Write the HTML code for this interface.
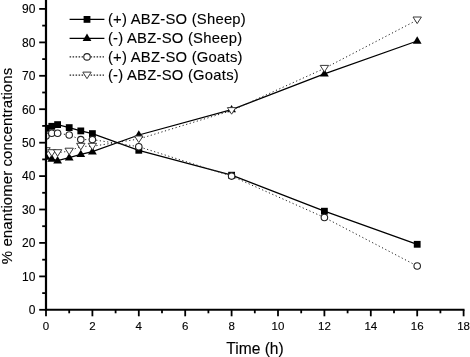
<!DOCTYPE html>
<html><head><meta charset="utf-8"><title>chart</title>
<style>
html,body{margin:0;padding:0;background:#fff;}
body{width:470px;height:357px;overflow:hidden;}
svg{display:block;will-change:transform;font-family:"Liberation Sans",sans-serif;}
text{fill:#000;stroke:#000;stroke-width:0.12px;}
</style></head><body>
<svg width="470" height="357" viewBox="0 0 470 357">
<rect width="470" height="357" fill="#fff"/>
<clipPath id="c"><rect x="46.0" y="0" width="430" height="309.8"/></clipPath><g clip-path="url(#c)">
<polyline points="46.0,128.3 51.8,126.3 57.6,124.6 69.2,127.6 80.8,130.9 92.4,133.6 138.8,150.3 231.6,175.2 324.4,211.2 417.2,244.3" stroke="#000" stroke-width="1.25" fill="none"/>
<rect x="42.6" y="124.9" width="6.8" height="6.8" fill="#000"/>
<rect x="48.4" y="122.9" width="6.8" height="6.8" fill="#000"/>
<rect x="54.2" y="121.2" width="6.8" height="6.8" fill="#000"/>
<rect x="65.8" y="124.2" width="6.8" height="6.8" fill="#000"/>
<rect x="77.4" y="127.5" width="6.8" height="6.8" fill="#000"/>
<rect x="89.0" y="130.2" width="6.8" height="6.8" fill="#000"/>
<rect x="135.4" y="146.9" width="6.8" height="6.8" fill="#000"/>
<rect x="228.2" y="171.8" width="6.8" height="6.8" fill="#000"/>
<rect x="321.0" y="207.8" width="6.8" height="6.8" fill="#000"/>
<rect x="413.8" y="240.9" width="6.8" height="6.8" fill="#000"/>
<polyline points="46.0,157.0 51.8,159.0 57.6,160.7 69.2,157.7 80.8,154.4 92.4,151.7 138.8,135.0 231.6,109.6 324.4,73.8 417.2,41.0" stroke="#000" stroke-width="1.25" fill="none"/>
<polygon points="46.0,152.3 50.4,159.7 41.6,159.7" fill="#000"/>
<polygon points="51.8,154.3 56.2,161.7 47.4,161.7" fill="#000"/>
<polygon points="57.6,156.0 62.0,163.4 53.2,163.4" fill="#000"/>
<polygon points="69.2,153.0 73.6,160.4 64.8,160.4" fill="#000"/>
<polygon points="80.8,149.7 85.2,157.1 76.4,157.1" fill="#000"/>
<polygon points="92.4,147.0 96.8,154.4 88.0,154.4" fill="#000"/>
<polygon points="138.8,130.3 143.2,137.7 134.4,137.7" fill="#000"/>
<polygon points="231.6,104.9 236.0,112.3 227.2,112.3" fill="#000"/>
<polygon points="324.4,69.1 328.8,76.5 320.0,76.5" fill="#000"/>
<polygon points="417.2,36.3 421.6,43.7 412.8,43.7" fill="#000"/>
<polyline points="46.0,136.0 51.8,133.3 57.6,133.3 69.2,135.0 80.8,139.6 92.4,139.6 138.8,146.7 231.6,176.1 324.4,217.5 417.2,266.0" stroke="#222" stroke-width="1" stroke-dasharray="1.2,2.5" fill="none"/>
<circle cx="46.0" cy="136.0" r="3.25" fill="#fff" stroke="#222" stroke-width="1.1"/>
<circle cx="51.8" cy="133.3" r="3.25" fill="#fff" stroke="#222" stroke-width="1.1"/>
<circle cx="57.6" cy="133.3" r="3.25" fill="#fff" stroke="#222" stroke-width="1.1"/>
<circle cx="69.2" cy="135.0" r="3.25" fill="#fff" stroke="#222" stroke-width="1.1"/>
<circle cx="80.8" cy="139.6" r="3.25" fill="#fff" stroke="#222" stroke-width="1.1"/>
<circle cx="92.4" cy="139.6" r="3.25" fill="#fff" stroke="#222" stroke-width="1.1"/>
<circle cx="138.8" cy="146.7" r="3.25" fill="#fff" stroke="#222" stroke-width="1.1"/>
<circle cx="231.6" cy="176.1" r="3.25" fill="#fff" stroke="#222" stroke-width="1.1"/>
<circle cx="324.4" cy="217.5" r="3.25" fill="#fff" stroke="#222" stroke-width="1.1"/>
<circle cx="417.2" cy="266.0" r="3.25" fill="#fff" stroke="#222" stroke-width="1.1"/>
<polyline points="46.0,150.7 51.8,152.7 57.6,152.7 69.2,151.2 80.8,146.3 92.4,146.3 138.8,139.0 231.6,110.6 324.4,68.4 417.2,20.0" stroke="#222" stroke-width="1" stroke-dasharray="1.2,2.5" fill="none"/>
<polygon points="41.8,147.7 50.2,147.7 46.0,154.3" fill="#fff" stroke="#3a3a3a" stroke-width="1.0"/>
<polygon points="47.6,149.7 56.0,149.7 51.8,156.3" fill="#fff" stroke="#3a3a3a" stroke-width="1.0"/>
<polygon points="53.4,149.7 61.8,149.7 57.6,156.3" fill="#fff" stroke="#3a3a3a" stroke-width="1.0"/>
<polygon points="65.0,148.2 73.4,148.2 69.2,154.8" fill="#fff" stroke="#3a3a3a" stroke-width="1.0"/>
<polygon points="76.6,143.3 85.0,143.3 80.8,149.9" fill="#fff" stroke="#3a3a3a" stroke-width="1.0"/>
<polygon points="88.2,143.3 96.6,143.3 92.4,149.9" fill="#fff" stroke="#3a3a3a" stroke-width="1.0"/>
<polygon points="134.6,136.0 143.0,136.0 138.8,142.6" fill="#fff" stroke="#3a3a3a" stroke-width="1.0"/>
<polygon points="227.4,107.6 235.8,107.6 231.6,114.2" fill="#fff" stroke="#3a3a3a" stroke-width="1.0"/>
<polygon points="320.2,65.4 328.6,65.4 324.4,72.0" fill="#fff" stroke="#3a3a3a" stroke-width="1.0"/>
<polygon points="413.0,17.0 421.4,17.0 417.2,23.6" fill="#fff" stroke="#3a3a3a" stroke-width="1.0"/>
</g>
<line x1="46.0" y1="0" x2="46.0" y2="310.8" stroke="#000" stroke-width="2.2"/>
<line x1="44.9" y1="309.8" x2="464.5" y2="309.8" stroke="#000" stroke-width="2"/>
<line x1="39.2" y1="309.8" x2="46.0" y2="309.8" stroke="#000" stroke-width="1.8"/>
<text x="35.4" y="314.1" font-size="12" text-anchor="end">0</text>
<line x1="42.2" y1="293.1" x2="46.0" y2="293.1" stroke="#000" stroke-width="1.8"/>
<line x1="39.2" y1="276.4" x2="46.0" y2="276.4" stroke="#000" stroke-width="1.8"/>
<text x="35.4" y="280.7" font-size="12" text-anchor="end">10</text>
<line x1="42.2" y1="259.7" x2="46.0" y2="259.7" stroke="#000" stroke-width="1.8"/>
<line x1="39.2" y1="242.9" x2="46.0" y2="242.9" stroke="#000" stroke-width="1.8"/>
<text x="35.4" y="247.2" font-size="12" text-anchor="end">20</text>
<line x1="42.2" y1="226.2" x2="46.0" y2="226.2" stroke="#000" stroke-width="1.8"/>
<line x1="39.2" y1="209.5" x2="46.0" y2="209.5" stroke="#000" stroke-width="1.8"/>
<text x="35.4" y="213.8" font-size="12" text-anchor="end">30</text>
<line x1="42.2" y1="192.8" x2="46.0" y2="192.8" stroke="#000" stroke-width="1.8"/>
<line x1="39.2" y1="176.1" x2="46.0" y2="176.1" stroke="#000" stroke-width="1.8"/>
<text x="35.4" y="180.4" font-size="12" text-anchor="end">40</text>
<line x1="42.2" y1="159.4" x2="46.0" y2="159.4" stroke="#000" stroke-width="1.8"/>
<line x1="39.2" y1="142.7" x2="46.0" y2="142.7" stroke="#000" stroke-width="1.8"/>
<text x="35.4" y="147.0" font-size="12" text-anchor="end">50</text>
<line x1="42.2" y1="125.9" x2="46.0" y2="125.9" stroke="#000" stroke-width="1.8"/>
<line x1="39.2" y1="109.2" x2="46.0" y2="109.2" stroke="#000" stroke-width="1.8"/>
<text x="35.4" y="113.5" font-size="12" text-anchor="end">60</text>
<line x1="42.2" y1="92.5" x2="46.0" y2="92.5" stroke="#000" stroke-width="1.8"/>
<line x1="39.2" y1="75.8" x2="46.0" y2="75.8" stroke="#000" stroke-width="1.8"/>
<text x="35.4" y="80.1" font-size="12" text-anchor="end">70</text>
<line x1="42.2" y1="59.1" x2="46.0" y2="59.1" stroke="#000" stroke-width="1.8"/>
<line x1="39.2" y1="42.4" x2="46.0" y2="42.4" stroke="#000" stroke-width="1.8"/>
<text x="35.4" y="46.7" font-size="12" text-anchor="end">80</text>
<line x1="42.2" y1="25.6" x2="46.0" y2="25.6" stroke="#000" stroke-width="1.8"/>
<line x1="39.2" y1="8.9" x2="46.0" y2="8.9" stroke="#000" stroke-width="1.8"/>
<text x="35.4" y="13.2" font-size="12" text-anchor="end">90</text>
<line x1="46.0" y1="309.8" x2="46.0" y2="316.3" stroke="#000" stroke-width="1.8"/>
<text x="46.0" y="330" font-size="11.5" text-anchor="middle">0</text>
<line x1="69.2" y1="309.8" x2="69.2" y2="313.3" stroke="#000" stroke-width="1.8"/>
<line x1="92.4" y1="309.8" x2="92.4" y2="316.3" stroke="#000" stroke-width="1.8"/>
<text x="92.4" y="330" font-size="11.5" text-anchor="middle">2</text>
<line x1="115.6" y1="309.8" x2="115.6" y2="313.3" stroke="#000" stroke-width="1.8"/>
<line x1="138.8" y1="309.8" x2="138.8" y2="316.3" stroke="#000" stroke-width="1.8"/>
<text x="138.8" y="330" font-size="11.5" text-anchor="middle">4</text>
<line x1="162.0" y1="309.8" x2="162.0" y2="313.3" stroke="#000" stroke-width="1.8"/>
<line x1="185.2" y1="309.8" x2="185.2" y2="316.3" stroke="#000" stroke-width="1.8"/>
<text x="185.2" y="330" font-size="11.5" text-anchor="middle">6</text>
<line x1="208.4" y1="309.8" x2="208.4" y2="313.3" stroke="#000" stroke-width="1.8"/>
<line x1="231.6" y1="309.8" x2="231.6" y2="316.3" stroke="#000" stroke-width="1.8"/>
<text x="231.6" y="330" font-size="11.5" text-anchor="middle">8</text>
<line x1="254.8" y1="309.8" x2="254.8" y2="313.3" stroke="#000" stroke-width="1.8"/>
<line x1="278.0" y1="309.8" x2="278.0" y2="316.3" stroke="#000" stroke-width="1.8"/>
<text x="278.0" y="330" font-size="11.5" text-anchor="middle">10</text>
<line x1="301.2" y1="309.8" x2="301.2" y2="313.3" stroke="#000" stroke-width="1.8"/>
<line x1="324.4" y1="309.8" x2="324.4" y2="316.3" stroke="#000" stroke-width="1.8"/>
<text x="324.4" y="330" font-size="11.5" text-anchor="middle">12</text>
<line x1="347.6" y1="309.8" x2="347.6" y2="313.3" stroke="#000" stroke-width="1.8"/>
<line x1="370.8" y1="309.8" x2="370.8" y2="316.3" stroke="#000" stroke-width="1.8"/>
<text x="370.8" y="330" font-size="11.5" text-anchor="middle">14</text>
<line x1="394.0" y1="309.8" x2="394.0" y2="313.3" stroke="#000" stroke-width="1.8"/>
<line x1="417.2" y1="309.8" x2="417.2" y2="316.3" stroke="#000" stroke-width="1.8"/>
<text x="417.2" y="330" font-size="11.5" text-anchor="middle">16</text>
<line x1="440.4" y1="309.8" x2="440.4" y2="313.3" stroke="#000" stroke-width="1.8"/>
<line x1="463.6" y1="309.8" x2="463.6" y2="316.3" stroke="#000" stroke-width="1.8"/>
<text x="463.6" y="330" font-size="11.5" text-anchor="middle">18</text>
<text x="255.0" y="353.6" font-size="15.6" letter-spacing="0" text-anchor="middle">Time (h)</text>
<text transform="translate(12.2,166) rotate(-90)" font-size="15" letter-spacing="0.08" text-anchor="middle">% enantiomer concentrations</text>
<line x1="69.6" y1="19.4" x2="104.4" y2="19.4" stroke="#000" stroke-width="1.3"/>
<rect x="83.6" y="16.0" width="6.8" height="6.8" fill="#000"/>
<text x="107.9" y="24.1" font-size="14.8" letter-spacing="0.25">(+) ABZ-SO (Sheep)</text>
<line x1="69.6" y1="38.3" x2="104.4" y2="38.3" stroke="#000" stroke-width="1.3"/>
<polygon points="87.0,33.6 91.4,41.0 82.6,41.0" fill="#000"/>
<text x="107.9" y="42.8" font-size="14.8" letter-spacing="0.25">(-) ABZ-SO (Sheep)</text>
<line x1="69.6" y1="56.9" x2="104.0" y2="56.9" stroke="#222" stroke-width="1.15" stroke-dasharray="1.5,1.5"/>
<circle cx="87.0" cy="56.9" r="3.25" fill="#fff" stroke="#222" stroke-width="1.1"/>
<text x="107.9" y="61.5" font-size="14.8" letter-spacing="0.25">(+) ABZ-SO (Goats)</text>
<line x1="69.6" y1="75.1" x2="104.0" y2="75.1" stroke="#222" stroke-width="1.15" stroke-dasharray="1.5,1.5"/>
<polygon points="82.8,72.1 91.2,72.1 87.0,78.7" fill="#fff" stroke="#3a3a3a" stroke-width="1.0"/>
<text x="107.9" y="80.1" font-size="14.8" letter-spacing="0.25">(-) ABZ-SO (Goats)</text>
</svg></body></html>
